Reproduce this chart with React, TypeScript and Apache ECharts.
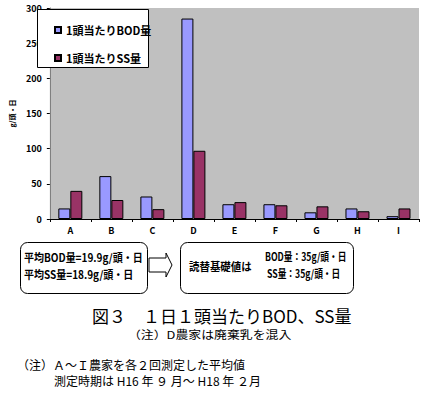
import React, { useEffect, useRef } from "react";
import * as echarts from "echarts";

const categories = ["A", "B", "C", "D", "E", "F", "G", "H", "I"];
const bodValues = [15, 61, 32, 285, 21, 21, 9.5, 15, 4];
const ssValues = [40, 27, 14, 97, 24, 19.5, 18, 11, 15];
const seriesNames = ["1頭当たりBOD量", "1頭当たりSS量"];
const yTicks = { min: 0, max: 300, interval: 50 };

const FONT = "'Noto Sans CJK JP', sans-serif";

export default function App() {
  const ref = useRef<HTMLDivElement>(null);
  useEffect(() => {
    const chart = echarts.init(ref.current!, null, { renderer: "svg" });
    const txt = (text: string, x: number, y: number, font: string, scaleX = 1) => ({
      type: "text",
      x,
      y,
      scaleX,
      style: { text, font, fill: "#000", verticalAlign: "middle" },
    });
    chart.setOption({
      animation: false,
      backgroundColor: "#ffffff",
      grid: { left: 35, top: 8, width: 384, height: 211, show: true, backgroundColor: "#c0c0c0", borderWidth: 0 },
      legend: {
        orient: "vertical",
        left: 49,
        top: 18,
        itemWidth: 6,
        itemHeight: 6,
        itemGap: 14,
        icon: "rect",
        z: 5,
        textStyle: { fontFamily: FONT, fontSize: 11, fontWeight: "bold", color: "#000", lineHeight: 14 },
        data: seriesNames,
      },
      xAxis: {
        type: "category",
        data: categories,
        axisLine: { lineStyle: { color: "#000", width: 1 } },
        axisTick: { show: true, length: 3, lineStyle: { color: "#000" } },
        axisLabel: { color: "#000", fontFamily: FONT, fontSize: 9, fontWeight: "bold", margin: 7 },
      },
      yAxis: {
        type: "value",
        min: yTicks.min,
        max: yTicks.max,
        interval: yTicks.interval,
        name: "g/頭・日",
        nameLocation: "middle",
        nameRotate: 90,
        nameGap: 28,
        nameTextStyle: { color: "#000", fontFamily: FONT, fontSize: 7, fontWeight: "bold" },
        splitLine: { show: false },
        axisLine: { show: true, lineStyle: { color: "#808080", width: 1 } },
        axisTick: { show: true, length: 3, lineStyle: { color: "#000" } },
        axisLabel: { color: "#000", fontFamily: FONT, fontSize: 9, fontWeight: "bold", margin: 8 },
      },
      series: [
        {
          name: seriesNames[0],
          type: "bar",
          data: bodValues,
          barWidth: 12,
          barGap: "0%",
          itemStyle: { color: "#9999ff", borderColor: "#000", borderWidth: 1 },
        },
        {
          name: seriesNames[1],
          type: "bar",
          data: ssValues,
          barWidth: 12,
          barGap: "0%",
          itemStyle: { color: "#993366", borderColor: "#000", borderWidth: 1 },
        },
      ],
      graphic: [
        { type: "rect", z: 3, shape: { x: 37.5, y: 9.5, width: 111, height: 58 }, style: { fill: "#fff", stroke: "#000", lineWidth: 1 } },
        { type: "rect", shape: { x: 20.5, y: 242.5, width: 127, height: 51, r: 7 }, style: { fill: "#fff", stroke: "#000", lineWidth: 1 } },
        txt("平均BOD量=19.9g/頭・日", 24, 257, `bold 11px ${FONT}`, 0.91),
        txt("平均SS量=18.9g/頭・日", 24, 274, `bold 11px ${FONT}`, 0.91),
        {
          type: "polygon",
          shape: { points: [[149, 258], [166, 258], [166, 253], [172, 265], [166, 277], [166, 272], [149, 272]] },
          style: { fill: "#fff", stroke: "#000", lineWidth: 1 },
        },
        { type: "rect", shape: { x: 180.5, y: 242.5, width: 173, height: 51, r: 7 }, style: { fill: "#fff", stroke: "#000", lineWidth: 1 } },
        txt("読替基礎値は", 189, 266, `bold 11px ${FONT}`, 0.95),
        txt("BOD量：35g/頭・日", 265, 257, `bold 11px ${FONT}`, 0.79),
        txt("SS量：35g/頭・日", 267, 274, `bold 11px ${FONT}`, 0.79),
        txt("図３　１日１頭当たりBOD、SS量", 92, 315, `17px ${FONT}`),
        txt("（注）D農家は廃棄乳を混入", 128, 334, `11px ${FONT}`, 1.17),
        txt("（注）Ａ～Ｉ農家を各２回測定した平均値", 17, 364, `12px ${FONT}`),
        txt("測定時期は H16 年 ９ 月～ H18 年 ２月", 54, 380, `12px ${FONT}`),
      ],
    });
    return () => chart.dispose();
  }, []);
  return <div ref={ref} style={{ position: "absolute", left: 0, top: 0, width: 424, height: 398 }} />;
}
